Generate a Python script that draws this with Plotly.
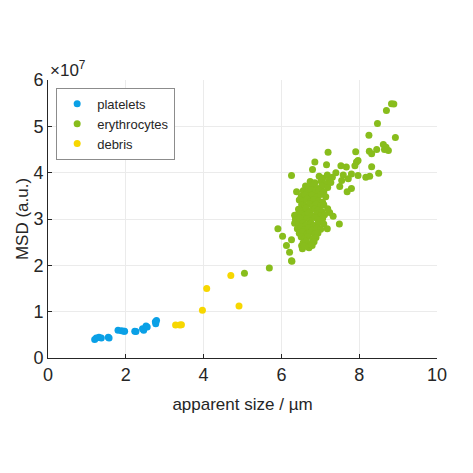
import plotly.graph_objects as go

# apparent size (um) and MSD (units of 1e7) per population
platelet_size = [1.20, 1.24, 1.31, 1.37, 1.55, 1.57, 1.80, 1.89, 1.95, 1.97,
                 2.23, 2.26, 2.43, 2.46, 2.52, 2.55, 2.76, 2.77, 2.79]
platelet_msd = [0.40, 0.43, 0.45, 0.43, 0.45, 0.43, 0.60, 0.59, 0.58, 0.58,
                0.58, 0.57, 0.63, 0.60, 0.69, 0.67, 0.78, 0.74, 0.81]

debris_size = [3.28, 3.39, 3.43, 3.97, 4.08, 4.70, 4.91]
debris_msd = [0.71, 0.71, 0.72, 1.03, 1.50, 1.78, 1.12]

erythro_size = [
    5.05, 5.69, 6.27,
    8.83, 8.89, 8.70, 8.47, 8.93, 8.25, 8.62, 8.69, 8.75, 8.65, 8.45, 8.26, 8.32,
    7.91, 7.20, 6.86, 7.16, 6.80, 7.53, 7.67, 7.93, 7.97, 7.89, 8.32, 8.50, 8.17,
    8.27, 7.97, 7.80, 7.72, 7.59, 7.40, 7.55, 7.50, 7.80, 7.69, 6.26, 6.39, 5.91,
    6.03, 6.26, 6.13, 6.21, 6.26, 7.49, 7.18, 7.33, 7.24, 6.52, 6.54, 6.64, 6.43,
    6.34,
    6.97, 7.06, 7.18, 7.31, 7.22,
    6.74, 6.86, 7.02, 7.12, 7.27,
    6.62, 6.71, 6.81, 6.93, 7.04, 7.19,
    6.56, 6.66, 6.77, 6.86, 6.97, 7.09,
    6.51, 6.61, 6.69, 6.79, 6.91, 7.01, 7.14,
    6.46, 6.56, 6.66, 6.76, 6.84, 6.96, 7.06,
    6.52, 6.61, 6.72, 6.81, 6.89, 7.01, 7.09,
    6.44, 6.56, 6.64, 6.74, 6.86, 6.94, 7.04, 7.19,
    6.41, 6.49, 6.61, 6.69, 6.79, 6.91, 6.99, 7.11,
    6.36, 6.46, 6.54, 6.66, 6.74, 6.86, 6.94, 7.06,
    6.34, 6.44, 6.56, 6.64, 6.76, 6.84, 6.96, 7.09,
    6.41, 6.51, 6.59, 6.71, 6.79, 6.91, 7.01,
    6.46, 6.54, 6.66, 6.74, 6.86, 6.94,
    6.51, 6.61, 6.69, 6.81, 6.89,
    6.56, 6.64, 6.76, 6.84,
    6.59, 6.71, 6.79,
]
erythro_msd = [
    1.83, 1.94, 2.09,
    5.49, 5.48, 5.34, 5.06, 4.76, 4.81, 4.61, 4.55, 4.48, 4.50, 4.50, 4.46, 4.41,
    4.45, 4.44, 4.23, 4.17, 4.07, 4.15, 4.12, 4.23, 4.26, 4.15, 4.13, 3.99, 3.90,
    3.92, 3.94, 3.97, 3.87, 3.95, 4.00, 3.83, 3.70, 3.66, 3.59, 3.94, 3.59, 2.79,
    2.63, 2.55, 2.43, 2.28, 2.10, 2.89, 2.79, 3.06, 3.14, 2.42, 2.36, 2.46, 2.92,
    3.08,
    3.92, 3.88, 3.95, 3.90, 3.83,
    3.81, 3.78, 3.82, 3.76, 3.79,
    3.71, 3.68, 3.73, 3.66, 3.71, 3.68,
    3.61, 3.58, 3.63, 3.57, 3.62, 3.59,
    3.49, 3.52, 3.46, 3.51, 3.47, 3.53, 3.48,
    3.41, 3.38, 3.43, 3.37, 3.42, 3.39, 3.36,
    3.31, 3.28, 3.33, 3.27, 3.32, 3.29, 3.31,
    3.21, 3.18, 3.23, 3.17, 3.22, 3.19, 3.16, 3.22,
    3.09, 3.12, 3.08, 3.13, 3.07, 3.11, 3.06, 3.09,
    2.99, 3.02, 2.97, 3.01, 2.96, 3.03, 2.98, 3.01,
    2.91, 2.88, 2.92, 2.87, 2.91, 2.86, 2.92, 2.89,
    2.79, 2.82, 2.77, 2.81, 2.76, 2.80, 2.78,
    2.69, 2.72, 2.67, 2.71, 2.68, 2.70,
    2.61, 2.58, 2.62, 2.57, 2.60,
    2.49, 2.52, 2.47, 2.51,
    2.41, 2.38, 2.43,
]

x_ticks = [0, 2, 4, 6, 8, 10]
y_ticks = [0, 1, 2, 3, 4, 5, 6]

fig = go.Figure()

fig.add_trace(go.Scatter(x=platelet_size, y=platelet_msd, mode='markers', name='platelets',
                         marker=dict(color='#0aa0e6', size=7)))
fig.add_trace(go.Scatter(x=erythro_size, y=erythro_msd, mode='markers', name='erythrocytes',
                         marker=dict(color='#88bd1c', size=7)))
fig.add_trace(go.Scatter(x=debris_size, y=debris_msd, mode='markers', name='debris',
                         marker=dict(color='#f7d700', size=7)))

axis_common = dict(
    showgrid=True, gridcolor='#ebebeb', gridwidth=1,
    showline=True, linecolor='#262626', linewidth=1,
    ticks='inside', ticklen=4, tickcolor='#262626',
    zeroline=False, mirror=False, automargin=False,
    tickfont=dict(size=18, color='#262626'),
)

fig.update_xaxes(range=[0, 10], tickvals=x_ticks,
                 title=dict(text='apparent size / µm', font=dict(size=17, color='#262626'), standoff=14),
                 **axis_common)
fig.update_yaxes(range=[0, 6], tickvals=y_ticks,
                 title=dict(text='MSD (a.u.)', font=dict(size=17, color='#262626'), standoff=0),
                 **axis_common)

# exponent label like MATLAB
fig.add_annotation(xref='paper', yref='paper', x=0.0, y=1.0, xanchor='left', yanchor='bottom',
                   text='×10<sup>7</sup>', showarrow=False, yshift=-2,
                   font=dict(size=17, color='#262626'))

# page has an 8px body margin, so margins are shifted to compensate
fig.update_layout(
    width=473, height=473,
    margin=dict(l=40, r=44, t=72, b=123),
    paper_bgcolor='white', plot_bgcolor='white',
    font=dict(family='Liberation Sans, Arial, sans-serif', color='#262626'),
    showlegend=True,
    legend=dict(x=0.021, y=0.972, xanchor='left', yanchor='top',
                bgcolor='white', bordercolor='#8c8c8c', borderwidth=1,
                font=dict(size=13, color='#262626'),
                tracegroupgap=0, itemwidth=30),
)

fig.write_html("out.html")
